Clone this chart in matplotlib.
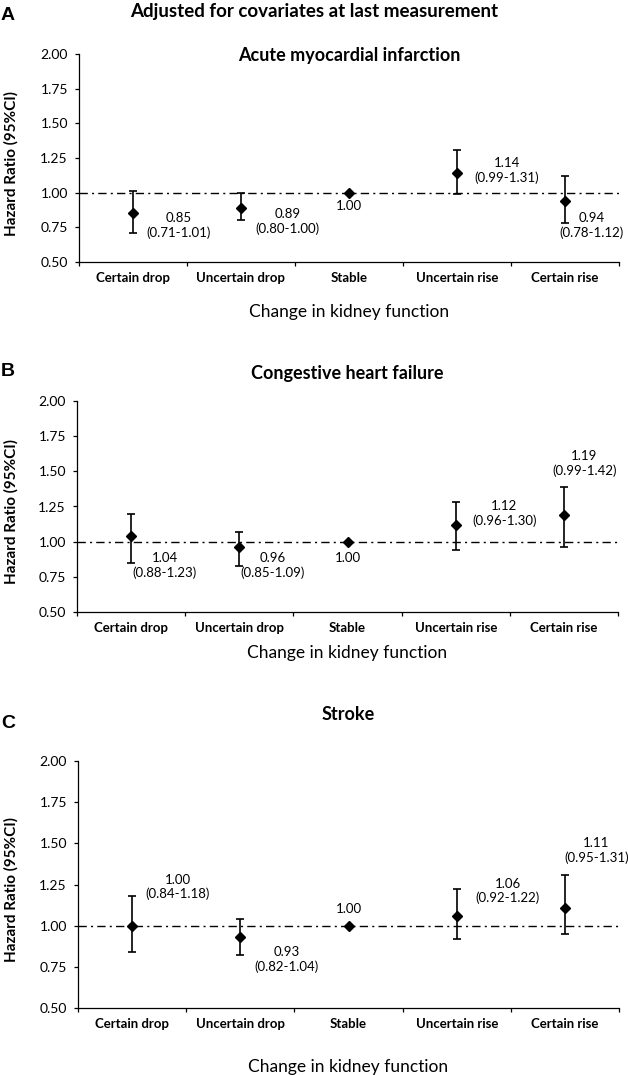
import numpy as np
import matplotlib.pyplot as plt

plt.rcParams['font.family'] = ['Lato', 'DejaVu Sans']

# Categories (x axis)
categories = ['Certain drop', 'Uncertain drop', 'Stable', 'Uncertain rise', 'Certain rise']

# A: acute myocardial infarction (HR and drawn CI ends)
ami_hr = [0.85, 0.89, 1.00, 1.14, 0.94]
ami_lo = [0.71, 0.80, 1.00, 0.99, 0.78]
ami_hi = [1.01, 1.00, 1.00, 1.31, 1.12]
ami_text = ['0.85\n(0.71-1.01)', '0.89\n(0.80-1.00)', '1.00', '1.14\n(0.99-1.31)', '0.94\n(0.78-1.12)']

# B: congestive heart failure
chf_hr = [1.04, 0.96, 1.00, 1.12, 1.19]
chf_lo = [0.85, 0.83, 1.00, 0.94, 0.96]
chf_hi = [1.20, 1.07, 1.00, 1.28, 1.39]
chf_text = ['1.04\n(0.88-1.23)', '0.96\n(0.85-1.09)', '1.00', '1.12\n(0.96-1.30)', '1.19\n(0.99-1.42)']

# C: stroke
str_hr = [1.00, 0.93, 1.00, 1.06, 1.11]
str_lo = [0.84, 0.82, 1.00, 0.92, 0.95]
str_hi = [1.18, 1.04, 1.00, 1.22, 1.31]
str_text = ['1.00\n(0.84-1.18)', '0.93\n(0.82-1.04)', '1.00', '1.06\n(0.92-1.22)', '1.11\n(0.95-1.31)']

yticks = [0.50, 0.75, 1.00, 1.25, 1.50, 1.75, 2.00]

W, H = 628, 1075
fig = plt.figure(figsize=(W / 100, H / 100), dpi=100)

# layout per panel (pixels from top): axes left/right/top/bottom, title y, letter y, xlabel y
panels = [
    dict(letter='A', title='Acute myocardial infarction', hr=ami_hr, lo=ami_lo, hi=ami_hi, text=ami_text,
         box=(79, 619, 54, 262), title_y=55, letter_y=15, xlabel_y=312,
         lab=[(0.42, 0.765), (0.43, 0.794), (0.0, 0.905), (0.46, 1.16), (0.25, 0.765)]),
    dict(letter='B', title='Congestive heart failure', hr=chf_hr, lo=chf_lo, hi=chf_hi, text=chf_text,
         box=(77, 618, 401, 612), title_y=374, letter_y=372, xlabel_y=653,
         lab=[(0.31, 0.83), (0.31, 0.83), (0.0, 0.886), (0.45, 1.20), (0.19, 1.557)]),
    dict(letter='C', title='Stroke', hr=str_hr, lo=str_lo, hi=str_hi, text=str_text,
         box=(78, 619, 761, 1008), title_y=714, letter_y=723, xlabel_y=1067,
         lab=[(0.42, 1.235), (0.43, 0.795), (0.0, 1.10), (0.47, 1.21), (0.29, 1.458)]),
]

fig.text(0.5, 1 - 12 / H, 'Adjusted for covariates at last measurement', ha='center', va='center',
         fontsize=13.5, fontweight='bold')

x = np.arange(len(categories))
for p in panels:
    l, r, t, b = p['box']
    ax = fig.add_axes([l / W, 1 - b / H, (r - l) / W, (b - t) / H])
    hr = np.array(p['hr'])
    err = [hr - np.array(p['lo']), np.array(p['hi']) - hr]
    ax.axhline(1.0, color='black', lw=1.0, ls=(0, (6, 3, 1.5, 3)), zorder=1)
    ax.errorbar(x, hr, yerr=err, fmt='none', ecolor='black', elinewidth=1.2, capsize=3, capthick=1.2, zorder=2)
    ax.plot(x, hr, 'D', color='black', markersize=5.5, zorder=3)

    for i, (dx, ty) in enumerate(p['lab']):
        ax.text(i + dx, ty, p['text'][i], ha='center', va='center', fontsize=9.5, linespacing=1.2)

    ax.set_xlim(-0.5, len(categories) - 0.5)
    ax.set_ylim(0.5, 2.0)
    ax.set_yticks(yticks)
    ax.set_yticklabels([f'{v:.2f}' for v in yticks])
    ax.set_xticks(np.arange(-0.5, len(categories)))
    ax.set_xticklabels([])
    ax.set_xticks(x, minor=True)
    ax.set_xticklabels(categories, minor=True, fontweight='bold')
    ax.tick_params(axis='x', which='minor', length=0, pad=7, labelsize=9.5)
    ax.tick_params(axis='x', which='major', length=3, width=0.9, direction='out')
    ax.tick_params(axis='y', length=3, width=0.9, direction='out', pad=5, labelsize=10)
    for s in ['top', 'right']:
        ax.spines[s].set_visible(False)
    for s in ['left', 'bottom']:
        ax.spines[s].set_linewidth(0.9)

    fig.text((l + r) / 2 / W, 1 - p['title_y'] / H, p['title'], ha='center', va='center',
             fontsize=13, fontweight='bold')
    fig.text(8 / W, 1 - p['letter_y'] / H, p['letter'], ha='center', va='center',
             fontsize=14, fontweight='bold', family='Liberation Sans')
    fig.text(11 / W, 1 - ((t + b) / 2 + 5) / H, 'Hazard Ratio (95%CI)', rotation=90,
             ha='center', va='center', fontsize=11, fontweight='bold')
    fig.text((l + r) / 2 / W, 1 - p['xlabel_y'] / H, 'Change in kidney function', ha='center', va='center',
             fontsize=12.5)

fig.savefig('out.png', dpi=100)
